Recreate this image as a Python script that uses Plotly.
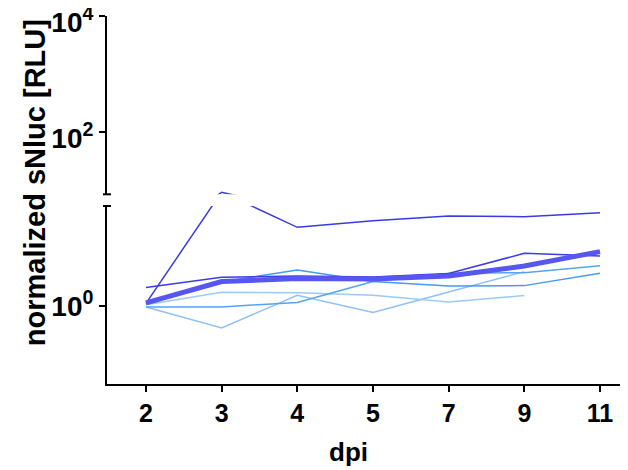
import plotly.graph_objects as go

dpi = ["2", "3", "4", "5", "7", "9", "11"]

series_dark1 = [1.06, 9.0, 4.56, 5.18, 5.67, 5.59, 6.04]
series_dark2 = [1.44, 1.75, 1.79, 1.76, 1.88, 2.77, 2.63]
series_a = [1.05, 1.60, 2.01, 1.61, 1.48, 1.49, 1.89]
series_b = [0.99, 0.99, 1.08, 1.61, 1.89, 1.91, 2.18]
series_c = [1.03, 1.31, 1.30, 1.24, 1.09, 1.23, None]
series_z = [0.99, 0.66, 1.24, 0.89, 1.32, 1.95, None]
series_mean = [1.07, 1.61, 1.71, 1.69, 1.79, 2.17, 2.86]

series = [
    (series_z, "#8EC2F7", 1.5),
    (series_c, "#9ACBF8", 1.5),
    (series_b, "#55A3F4", 1.5),
    (series_a, "#4A98F2", 1.5),
    (series_dark2, "#3C3CE6", 1.5),
    (series_dark1, "#3A3AE4", 1.5),
    (series_mean, "#5757F0", 5),
]

yticks_lower = [1]
yticktext_lower = ["10<sup>0</sup>"]
yticks_upper = [100, 10000]
yticktext_upper = ["10<sup>2</sup>", "10<sup>4</sup>"]

FONT = "Liberation Sans, Arial, sans-serif"

fig = go.Figure()
for vals, color, w in series:
    for ax in ("y", "y2"):
        fig.add_trace(go.Scatter(
            x=dpi, y=vals, mode="lines", yaxis=ax, xaxis="x",
            line=dict(color=color, width=w), showlegend=False,
            connectgaps=False, hoverinfo="skip"))

axis_common = dict(
    showline=True, linecolor="black", linewidth=2, showgrid=False,
    zeroline=False, ticks="outside", ticklen=6, tickwidth=2,
    tickcolor="black", ticklabeloverflow="allow", automargin=False,
)
xfont = dict(family=FONT, size=25, color="black", weight="bold")
yfont = dict(family=FONT, size=28, color="black", weight="bold")

fig.update_layout(
    width=620, height=462,
    margin=dict(l=99, r=0, t=8, b=86, autoexpand=False),
    paper_bgcolor="white", plot_bgcolor="white",
    xaxis=dict(type="category", range=[-0.515, 6.37], anchor="y",
               tickfont=xfont, **axis_common),
    yaxis=dict(type="log", domain=[0, 0.4837], range=[-0.647, 0.837],
               tickvals=yticks_lower, ticktext=yticktext_lower, anchor="x",
               tickfont=yfont, **axis_common),
    yaxis2=dict(type="log", domain=[0.5155, 1], range=[0.92, 4.003],
                tickvals=yticks_upper, ticktext=yticktext_upper, anchor="x",
                tickfont=yfont, ticklabelshift=6, **axis_common),
    annotations=[
        dict(text="normalized sNluc [RLU]", xref="paper", yref="paper",
             x=-0.138, y=0.546, xanchor="center", yanchor="middle",
             textangle=-90, showarrow=False,
             font=dict(family=FONT, size=29, color="black", weight="bold")),
        dict(text="dpi", xref="paper", yref="paper",
             x=0.4626, y=-0.1848, xanchor="center", yanchor="middle",
             showarrow=False,
             font=dict(family=FONT, size=26, color="black", weight="bold")),
    ],
    shapes=[
        dict(type="line", xref="paper", yref="paper", xsizemode="pixel",
             xanchor=0, x0=-4, x1=4, y0=0.5155, y1=0.5155,
             line=dict(color="black", width=2)),
        dict(type="line", xref="paper", yref="paper", xsizemode="pixel",
             xanchor=0, x0=-4, x1=4, y0=0.4837, y1=0.4837,
             line=dict(color="black", width=2)),
    ],
)

fig.write_html("out.html")
